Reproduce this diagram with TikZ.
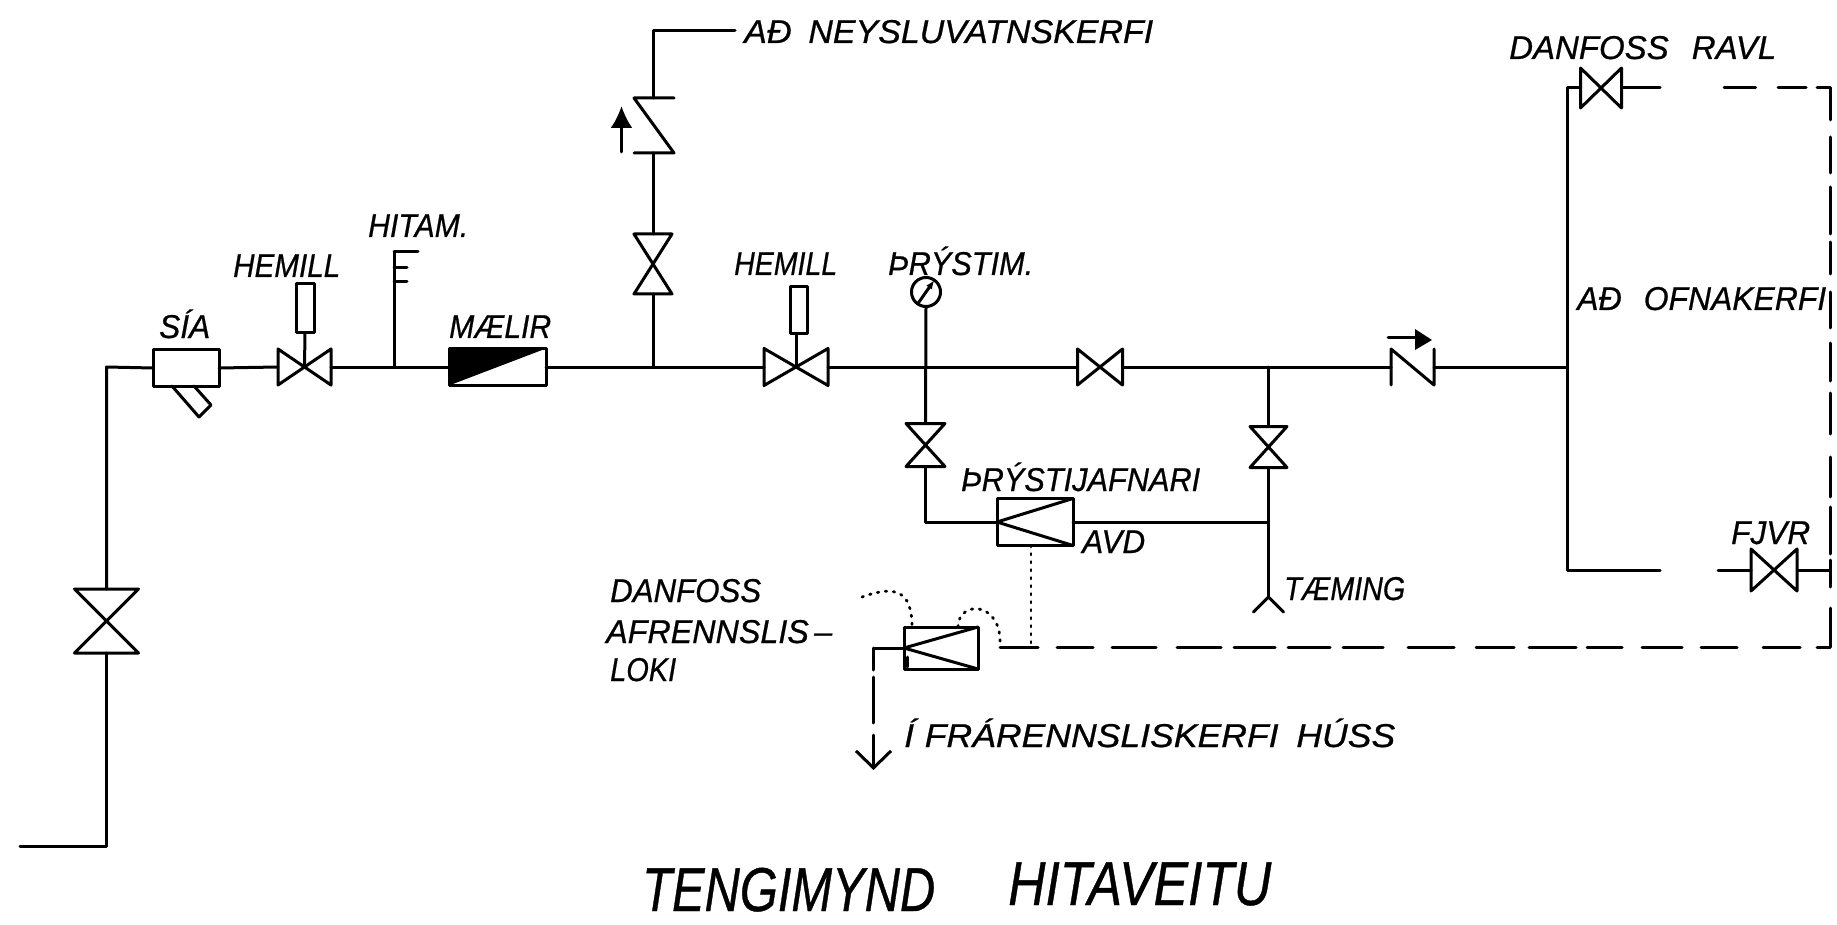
\documentclass[tikz,border=0pt]{standalone}
\usepackage{fontspec}
\usepackage{graphicx}
\setmainfont{Liberation Sans}[ItalicFeatures={FakeBold=0.7}]
\usetikzlibrary{arrows.meta}
\newcommand{\fitw}[2]{\resizebox{#1pt}{\height}{#2}}
\tikzset{
  pipe/.style={line width=3pt,line cap=round,line join=round},
  lbl/.style={font=\fontsize{33}{33}\selectfont\itshape,inner sep=0pt,anchor=base west},
  ttl/.style={font=\fontsize{62}{62}\selectfont\itshape,inner sep=0pt,anchor=base west},
  sym/.style={inner sep=0pt,outer sep=0pt},
  valveh/.style={sym,append after command={\pgfextra{\let\ln\tikzlastnode
    \draw[pipe] (\ln.north west) -- (\ln.south east) -- (\ln.north east) -- (\ln.south west) -- cycle;}}},
  valvev/.style={sym,append after command={\pgfextra{\let\ln\tikzlastnode
    \draw[pipe] (\ln.north west) -- (\ln.north east) -- (\ln.south west) -- (\ln.south east) -- cycle;}}},
  regbox/.style={sym,draw,pipe,minimum width=76pt,append after command={\pgfextra{\let\ln\tikzlastnode
    \draw[pipe] (\ln.north east) -- (\ln.west) -- (\ln.south east);}}},
  actbox/.style={sym,draw,pipe},
  dots/.style={line width=2.8pt,line cap=round,dash pattern=on 1.5pt off 6.5pt},
}
\begin{document}
\begin{tikzpicture}[x=1pt,y=-1pt]
\useasboundingbox (0,0) rectangle (1837,925);
\coordinate (inlet) at (20,846);
\coordinate (inbend) at (106.5,846);
\coordinate (topbend) at (106.5,367);
\node[valvev,minimum width=64,minimum height=64] (bigvalve) at (106.5,621) {};
\node[actbox,minimum width=66,minimum height=36] (sia) at (186,368) {};
\draw[pipe] (172,386) -- (199,417) -- (211,405) -- (194,386);
\node[valveh,minimum width=53,minimum height=36] (hemvalvea) at (304.5,367) {};
\node[actbox,minimum width=18,minimum height=49] (hemboxa) at (305,308.5) {};
\coordinate (hitj) at (394,367);
\coordinate (hittop) at (394,252);
\draw[pipe] (418,252) -- (hittop) (394,268) -- (407,268) (394,282) -- (407,282);
\node[actbox,minimum width=97,minimum height=37] (maelir) at (497.5,367) {};
\fill (maelir.north west) -- (maelir.north east) -- (maelir.south west) -- cycle;
\coordinate (upj) at (653,367);
\node[valvev,minimum width=38,minimum height=60] (upvalve) at (653,264) {};
\node[sym,minimum width=40,minimum height=55] (upcheck) at (654,125.5) {};
\draw[pipe] (upcheck.north east) -- (upcheck.north west) -- (upcheck.south east) -- (upcheck.south west);
\coordinate (neysbend) at (653,31);
\coordinate (neysend) at (735,31);
\draw[pipe,-{Latex[length=22pt,width=22pt]}] (621.5,152) -- (621.5,106);
\node[valveh,minimum width=64,minimum height=37] (hemvalveb) at (796,367) {};
\node[actbox,minimum width=17,minimum height=47] (hemboxb) at (798.5,310.5) {};
\node[circle,draw,pipe,sym,minimum size=29] (gauge) at (926,292) {};
\draw[pipe,-{Latex[length=9pt,width=7pt]}] (gauge.235) -- (gauge.55);
\node[valvev,minimum width=39,minimum height=43] (gvalve) at (925.5,445) {};
\coordinate (gbend) at (925.5,522);
\node[regbox,minimum height=47] (avd) at (1035,522) {};
\node[valveh,minimum width=45,minimum height=36] (midvalve) at (1100,367) {};
\coordinate (tj) at (1268.5,367);
\coordinate (tjb) at (1268.5,522);
\node[valvev,minimum width=37,minimum height=41] (tvalve) at (1268.5,447) {};
\coordinate (fork) at (1268.5,597);
\coordinate (forka) at (1253.5,612);
\coordinate (forkb) at (1283.5,612);
\node[sym,minimum width=43,minimum height=36] (hcheck) at (1412.5,367) {};
\draw[pipe] (hcheck.north west) -- (hcheck.south west) (hcheck.north west) -- (hcheck.south east) -- (hcheck.north east);
\draw[pipe] (1388,338) -- (1415,338);
\fill (1415,329) -- (1432,340) -- (1415,350) -- cycle;
\coordinate (ofnj) at (1567,367);
\coordinate (ofntop) at (1567,88);
\coordinate (ofnbot) at (1567,570);
\node[valveh,minimum width=41,minimum height=40] (ravl) at (1601,88) {};
\coordinate (ravlend) at (1660,88);
\coordinate (ofnend) at (1660,570);
\coordinate (fjvrin) at (1718,570);
\node[valveh,minimum width=46,minimum height=42] (fjvr) at (1774,570) {};
\coordinate (fjvrout) at (1830,570);
\coordinate (retstart) at (1724,88);
\coordinate (retcorn) at (1830,88);
\coordinate (botcorn) at (1830,647);
\node[regbox,minimum width=74,minimum height=42] (loki) at (941,648) {};
\draw[pipe] (907,657) -- (907,667);
\coordinate (drainbend) at (873.5,648);
\coordinate (drainend) at (873.5,770);
\coordinate (lokiret) at (1000,647);
\coordinate (dotj) at (1031,647);
\coordinate (dota) at (862,597);
\coordinate (dotb) at (912,627);
\coordinate (dotc) at (958,627);
\path[draw,pipe,-] (inlet) -- (inbend) -- (bigvalve.south);
\path[draw,pipe,-] (bigvalve.north) -- (topbend) -- (sia.west);
\path[draw,pipe,-] (sia.east) -- (hemvalvea.west);
\path[draw,pipe,-] (hemvalvea.center) -- (hemboxa.south);
\path[draw,pipe,-] (hemvalvea.east) -- (maelir.west);
\path[draw,pipe,-] (hitj) -- (hittop);
\path[draw,pipe,-] (maelir.east) -- (hemvalveb.west);
\path[draw,pipe,-] (upj) -- (upvalve.south);
\path[draw,pipe,-] (upvalve.north) -- (upcheck.south -| upj);
\path[draw,pipe,-] (upcheck.north -| upj) -- (neysbend) -- (neysend);
\path[draw,pipe,-] (hemvalveb.center) -- (hemboxb.south -| hemvalveb.center);
\path[draw,pipe,-] (hemvalveb.east) -- (midvalve.west);
\path[draw,pipe,-] (gauge.south) -- (gvalve.north);
\path[draw,pipe,-] (gvalve.south) -- (gbend) -- (avd.west);
\path[draw,pipe,-] (avd.east) -- (tjb);
\path[draw,pipe,-] (midvalve.east) -- (hcheck.west);
\path[draw,pipe,-] (tj) -- (tvalve.north);
\path[draw,pipe,-] (tvalve.south) -- (fork);
\path[draw,pipe,-] (forka) -- (fork) -- (forkb);
\path[draw,pipe,-] (hcheck.east) -- (ofnj);
\path[draw,pipe,-] (ravl.west) -- (ofntop) -- (ofnbot) -- (ofnend);
\path[draw,pipe,-] (ravl.east) -- (ravlend);
\path[draw,pipe,-] (fjvrin) -- (fjvr.west);
\path[draw,pipe,-] (fjvr.east) -- (fjvrout);
\path[draw,pipe,-,dash pattern=on 31.5pt off 22.5pt on 28pt off 11pt on 45pt off 17pt on 36pt off 14pt on 47pt off 8pt on 32pt off 18pt on 36pt off 15pt on 38pt off 12pt on 41pt off 23pt on 40pt off 10pt on 47pt off 6pt on 27pt off 21pt on 60pt] (retstart) -- (retcorn) -- (botcorn);
\path[draw,pipe,-,dash pattern=on 38pt off 19pt on 36pt off 19pt on 44pt off 21pt on 44pt off 13pt on 41pt off 13pt on 42pt off 13pt on 40pt off 25pt on 46pt off 22pt on 38pt off 15pt on 47pt off 11pt on 35pt off 20pt on 40pt off 19pt on 36pt off 26pt on 37pt off 17pt on 40pt] (lokiret) -- (botcorn);
\path[draw,pipe,-] (loki.west) -- (drainbend);
\path[draw,pipe,dash pattern=on 22pt off 7pt on 46pt off 12pt on 40pt,-{Straight Barb[length=17pt,width=35pt,line width=3pt]}] (drainbend) -- (drainend);
\path[draw,dots] (avd.south -| dotj) -- (dotj);
\path[draw,dots] (dota) .. controls (895,585) and (912,590) .. (dotb);
\path[draw,dots] (dotc) .. controls (958,600) and (1003,600) .. (lokiret);
\node[lbl] (lblsia) at (159,338) {\fitw{51}{SÍA}};
\node[lbl] (lblhema) at (233,277) {\fitw{107}{HEMILL}};
\node[lbl] (lblhit) at (368,237) {\fitw{100}{HITAM.}};
\node[lbl] (lblmael) at (449,338) {\fitw{102}{MÆLIR}};
\node[lbl] (lblneys) at (744,43) {\fitw{409}{AÐ\hspace{0.5em}NEYSLUVATNSKERFI}};
\node[lbl] (lblhemb) at (734,275) {\fitw{103}{HEMILL}};
\node[lbl] (lblprys) at (888,275) {\fitw{145}{ÞRÝSTIM.}};
\node[lbl] (lbljafn) at (961,491) {\fitw{239}{ÞRÝSTIJAFNARI}};
\node[lbl] (lblavd) at (1082,553) {\fitw{63}{AVD}};
\node[lbl] (lbltaem) at (1284,600) {\fitw{121}{TÆMING}};
\node[lbl] (lbldana) at (610,602) {\fitw{151}{DANFOSS}};
\node[lbl] (lblafr) at (606,643) {\fitw{226}{AFRENNSLIS\,–}};
\node[lbl] (lbllok) at (610,681) {\fitw{66}{LOKI}};
\node[lbl] (lblfra) at (904,747) {\fitw{491}{Í\hspace{0.3em}FRÁRENNSLISKERFI\hspace{0.5em}HÚSS}};
\node[lbl] (lblravl) at (1509,59) {\fitw{267}{DANFOSS\hspace{0.7em}RAVL}};
\node[lbl] (lblofn) at (1577,310) {\fitw{249}{AÐ\hspace{0.7em}OFNAKERFI}};
\node[lbl] (lblfjvr) at (1731,544) {\fitw{79}{FJVR}};
\node[ttl] (ttla) at (642,911) {\fitw{293}{TENGIMYND}};
\node[ttl] (ttlb) at (1008,905) {\fitw{263}{HITAVEITU}};
\end{tikzpicture}
\end{document}
